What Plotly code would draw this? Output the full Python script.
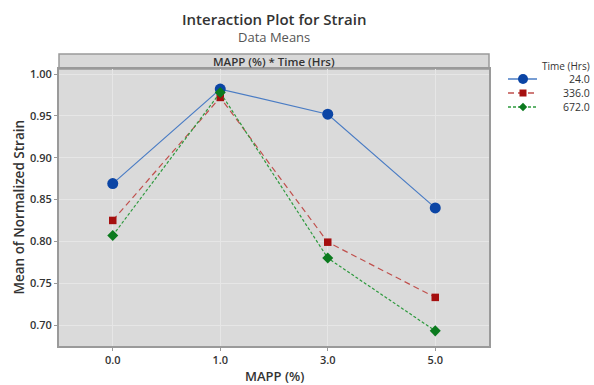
import plotly.graph_objects as go

mapp = ["0.0", "1.0", "3.0", "5.0"]
times = ["24.0", "336.0", "672.0"]
strain_24 = [0.869, 0.982, 0.952, 0.840]
strain_336 = [0.825, 0.972, 0.799, 0.733]
strain_672 = [0.807, 0.978, 0.780, 0.693]
y_ticks = [0.70, 0.75, 0.80, 0.85, 0.90, 0.95, 1.00]

FONT = "Open Sans"
TXT = "#333333"

W, H = 594, 385
L, R, T, B = 59, 105, 69, 39
PW, PH = W - L - R, H - T - B


def px(x):
    return (x - L) / PW


def py(y):
    return (H - B - y) / PH


styles = [
    (dict(color="#4a7cc4", width=1.2, dash="solid"),
     dict(symbol="circle", size=11, color="#0b45a5")),
    (dict(color="#c0504d", width=1.2, dash="6px,4px"),
     dict(symbol="square", size=7.5, color="#a50f0f")),
    (dict(color="#2e9a3e", width=1.2, dash="3px,2px"),
     dict(symbol="diamond", size=8.5, color="#0b7a1e")),
]
values = [strain_24, strain_336, strain_672]

fig = go.Figure()
for name, vals, (line, marker) in zip(times, values, styles):
    fig.add_trace(go.Scatter(
        x=mapp, y=vals, mode="lines+markers", name=name,
        line=line, marker=marker, showlegend=False,
    ))

fig.update_layout(
    width=W, height=H,
    margin=dict(l=L, r=R, t=T, b=B),
    paper_bgcolor="white",
    plot_bgcolor="#dadada",
    font=dict(family=FONT, size=11, color=TXT),
    showlegend=False,
    xaxis=dict(
        type="category", categoryorder="array", categoryarray=mapp,
        range=[-0.5, 3.5],
        showgrid=True, gridcolor="#e6e6e6", gridwidth=1,
        ticks="outside", ticklen=3, tickcolor="#999999",
        tickfont=dict(size=11, weight=600),
        showline=True, linecolor="#9a9a9a", linewidth=2, mirror=True,
        zeroline=False, automargin=False,
    ),
    yaxis=dict(
        range=[0.6749, 1.006],
        tickvals=y_ticks, tickformat=".2f",
        showgrid=True, gridcolor="#e6e6e6", gridwidth=1,
        ticks="outside", ticklen=3, tickcolor="#999999",
        tickfont=dict(size=11, weight=600),
        showline=True, linecolor="#9a9a9a", linewidth=2, mirror=True,
        zeroline=False, automargin=False,
    ),
)

ann = []
# titles
ann.append(dict(text="Interaction Plot for Strain", x=0.5, y=py(19),
                font=dict(size=15, color=TXT, weight=600)))
ann.append(dict(text="Data Means", x=0.5, y=py(37.5),
                font=dict(size=13, color="#555555")))
# axis titles
ann.append(dict(text="MAPP (%)", x=0.5, y=py(376),
                font=dict(size=13, color=TXT, weight=600)))
ann.append(dict(text="Mean of Normalized Strain", x=px(18), y=0.5, textangle=-90,
                font=dict(size=13.5, color=TXT, weight=600)))
# strip header text
ann.append(dict(text="MAPP (%) * Time (Hrs)", x=0.5, y=py(61.5),
                font=dict(size=11.5, color=TXT, weight=600)))
# legend title and labels (right aligned)
ann.append(dict(text="Time (Hrs)", x=px(592), y=py(65.5), xanchor="right",
                font=dict(size=10, color=TXT)))
rows = [79, 93, 107]
for name, ry in zip(times, rows):
    ann.append(dict(text=name, x=px(592), y=py(ry), xanchor="right",
                    font=dict(size=10.5, color=TXT)))

for a in ann:
    a.setdefault("xanchor", "center")
    fig.add_annotation(xref="paper", yref="paper", yanchor="middle",
                       showarrow=False, **a)

# strip header box
fig.add_shape(type="rect", xref="paper", yref="paper",
              x0=0, x1=1, y0=1, y1=py(54),
              fillcolor="#d9d9d9", line=dict(color="#9a9a9a", width=1.5), layer="below")

# legend samples
lx0, lx1, mx = 508, 537, 523
for (line, marker), ry in zip(styles, rows):
    fig.add_shape(type="line", xref="paper", yref="paper",
                  x0=px(lx0), x1=px(lx1), y0=py(ry), y1=py(ry),
                  line=dict(color=line["color"], width=1.5, dash=line["dash"]))
    c = marker["color"]
    if marker["symbol"] == "circle":
        r = 5
        fig.add_shape(type="circle", xref="paper", yref="paper",
                      x0=px(mx - r), x1=px(mx + r), y0=py(ry + r), y1=py(ry - r),
                      fillcolor=c, line=dict(color=c, width=0))
    elif marker["symbol"] == "square":
        r = 3.5
        fig.add_shape(type="rect", xref="paper", yref="paper",
                      x0=px(mx - r), x1=px(mx + r), y0=py(ry + r), y1=py(ry - r),
                      fillcolor=c, line=dict(color=c, width=0))
    else:
        r = 4.2
        path = (f"M {px(mx)},{py(ry - r)} L {px(mx + r)},{py(ry)} "
                f"L {px(mx)},{py(ry + r)} L {px(mx - r)},{py(ry)} Z")
        fig.add_shape(type="path", xref="paper", yref="paper", path=path,
                      fillcolor=c, line=dict(color=c, width=0))

fig.write_html("out.html")
